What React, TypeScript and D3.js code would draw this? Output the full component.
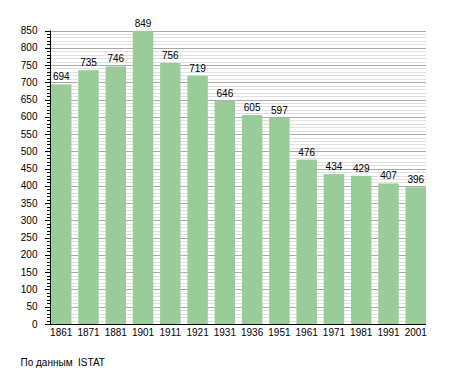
import React, { useRef, useEffect } from "react";
import { select, scaleBand, scaleLinear, range } from "d3";

const years = ["1861", "1871", "1881", "1901", "1911", "1921", "1931", "1936", "1951", "1961", "1971", "1981", "1991", "2001"];
const population = [694, 735, 746, 849, 756, 719, 646, 605, 597, 476, 434, 429, 407, 396];
const yTicks = range(0, 851, 50);
const minorTicks = range(0, 851, 10);

const W = 455;
const H = 373;
const left = 50;
const right = 426;
const top = 30.5;
const bottom = 324;
const font = "'Liberation Sans', Arial, sans-serif";

function App() {
  const svgRef = useRef(null);

  useEffect(() => {
    const svg = select(svgRef.current);
    svg.selectAll("*").remove();

    const x = scaleBand().domain(years).range([left + 1, right]).paddingInner(0.25).paddingOuter(0);
    const y = scaleLinear().domain([0, 850]).range([bottom, top]);

    // grid
    svg.append("g")
      .selectAll("line")
      .data(minorTicks.filter((d) => d % 50 !== 0))
      .join("line")
      .attr("x1", left).attr("x2", right)
      .attr("y1", (d) => Math.round(y(d)) + 0.5).attr("y2", (d) => Math.round(y(d)) + 0.5)
      .attr("stroke", "#e0e0e0");
    svg.append("g")
      .selectAll("line")
      .data(yTicks.filter((d) => d > 0))
      .join("line")
      .attr("x1", left).attr("x2", right)
      .attr("y1", (d) => Math.round(y(d)) + 0.5).attr("y2", (d) => Math.round(y(d)) + 0.5)
      .attr("stroke", "#aaaaaa");

    // bars
    svg.append("g")
      .selectAll("rect")
      .data(population)
      .join("rect")
      .attr("x", (d, i) => x(years[i]))
      .attr("y", (d) => y(d))
      .attr("width", x.bandwidth())
      .attr("height", (d) => bottom - y(d))
      .attr("fill", "#99cc99");

    // value labels
    svg.append("g")
      .selectAll("text")
      .data(population)
      .join("text")
      .attr("x", (d, i) => x(years[i]) + x.bandwidth() / 2)
      .attr("y", (d) => y(d) - 4)
      .attr("text-anchor", "middle")
      .attr("font-family", font)
      .attr("font-size", 10)
      .attr("fill", "#000")
      .text((d) => d);

    // y axis
    const ax = svg.append("g");
    ax.append("line")
      .attr("x1", left + 0.5).attr("x2", left + 0.5)
      .attr("y1", top).attr("y2", bottom)
      .attr("stroke", "#000");
    ax.selectAll(".minor")
      .data(minorTicks.filter((d) => d % 50 !== 0))
      .join("line")
      .attr("class", "minor")
      .attr("x1", left - 3).attr("x2", left)
      .attr("y1", (d) => Math.round(y(d)) + 0.5).attr("y2", (d) => Math.round(y(d)) + 0.5)
      .attr("stroke", "#000");
    ax.selectAll(".major")
      .data(yTicks)
      .join("line")
      .attr("class", "major")
      .attr("x1", left - 5).attr("x2", left)
      .attr("y1", (d) => Math.round(y(d)) + 0.5).attr("y2", (d) => Math.round(y(d)) + 0.5)
      .attr("stroke", "#000");
    ax.selectAll("text")
      .data(yTicks)
      .join("text")
      .attr("x", 37.5)
      .attr("y", (d) => y(d) + 3.5)
      .attr("text-anchor", "end")
      .attr("font-family", font)
      .attr("font-size", 10)
      .text((d) => d);

    // x axis
    svg.append("line")
      .attr("x1", left - 5).attr("x2", right)
      .attr("y1", bottom + 0.5).attr("y2", bottom + 0.5)
      .attr("stroke", "#000");
    svg.append("g")
      .selectAll("text")
      .data(years)
      .join("text")
      .attr("x", (d) => x(d) + x.bandwidth() / 2)
      .attr("y", 335.5)
      .attr("text-anchor", "middle")
      .attr("font-family", font)
      .attr("font-size", 10)
      .text((d) => d);

    svg.append("text")
      .attr("x", 20.5)
      .attr("y", 365.5)
      .attr("font-family", font)
      .attr("font-size", 10)
      .attr("xml:space", "preserve")
      .style("white-space", "pre")
      .text("По данным  ISTAT");
  }, []);

  return (
    <svg
      ref={svgRef}
      width={W}
      height={H}
      style={{ position: "absolute", left: 0, top: 0, background: "#fff" }}
    />
  );
}

export default App;
